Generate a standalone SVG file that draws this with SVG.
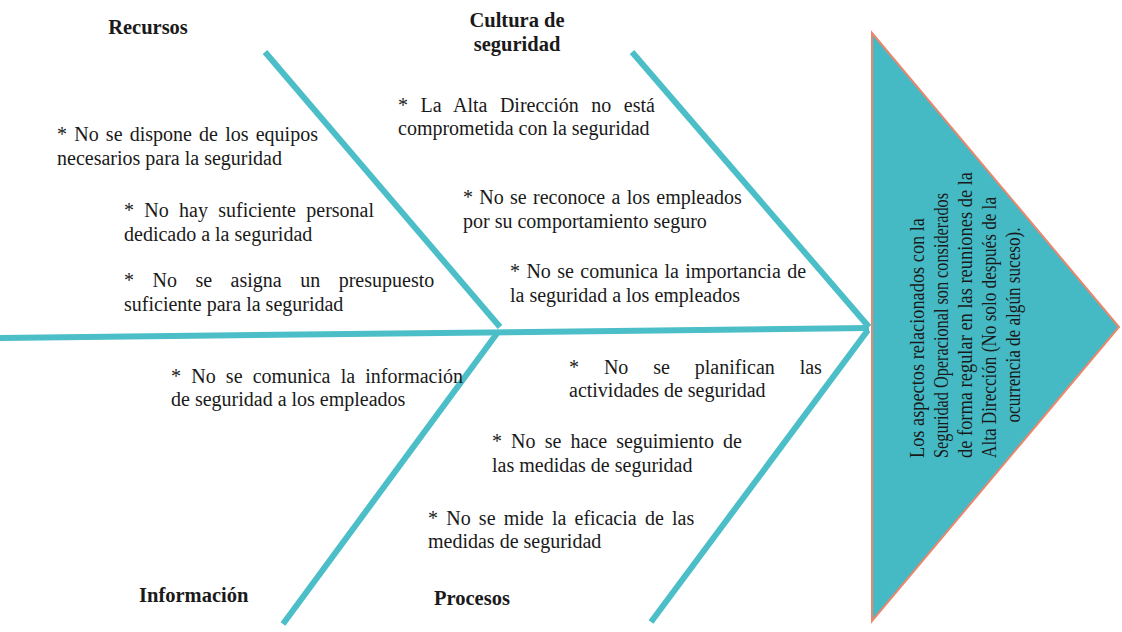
<svg xmlns="http://www.w3.org/2000/svg" width="1122" height="632" viewBox="0 0 1122 632">
<style>
.bone{stroke:#4BBEC7;stroke-width:6;fill:none;stroke-linecap:butt}
.t{font-family:"Liberation Serif","Times New Roman",serif;font-size:20px;fill:#1a1a1a}
.h{font-family:"Liberation Serif","Times New Roman",serif;font-size:20.5px;font-weight:bold;fill:#1a1a1a}
.r{font-family:"Liberation Serif","Times New Roman",serif;font-size:21px;fill:#1a1a1a}
</style>
<rect width="1122" height="632" fill="#ffffff"/>
<g id="connectors">
<line class="bone" x1="0" y1="338" x2="869" y2="328"/>
<line class="bone" x1="265" y1="52" x2="500" y2="327"/>
<line class="bone" x1="632" y1="52" x2="869" y2="327"/>
<line class="bone" x1="498" y1="332" x2="283" y2="624"/>
<line class="bone" x1="868" y1="330" x2="651" y2="622"/>
</g>
<g id="head">
<polygon points="872,33 1119,327 872,621" fill="#45BAC5" stroke="#E9876E" stroke-width="2"/>
<g transform="rotate(-90)">
<text class="r" x="-458" y="924" textLength="240" lengthAdjust="spacingAndGlyphs">Los aspectos relacionados con la</text>
<text class="r" x="-458" y="948" textLength="265" lengthAdjust="spacingAndGlyphs">Seguridad Operacional son considerados</text>
<text class="r" x="-458" y="972" textLength="286" lengthAdjust="spacingAndGlyphs">de forma regular en las reuniones de la</text>
<text class="r" x="-458" y="996" textLength="261" lengthAdjust="spacingAndGlyphs">Alta Dirección (No solo después de la</text>
<text class="r" x="-325" y="1020" text-anchor="middle" textLength="195" lengthAdjust="spacingAndGlyphs">ocurrencia de algún suceso).</text>
</g>
</g>
<g id="recursos">
<text class="h" x="148" y="34" text-anchor="middle">Recursos</text>
<text class="t" x="57" y="141" style="word-spacing:2.2px">* No se dispone de los equipos</text>
<text class="t" x="57" y="165">necesarios para la seguridad</text>
<text class="t" x="124" y="217" style="word-spacing:5.3px">* No hay suficiente personal</text>
<text class="t" x="124" y="241">dedicado a la seguridad</text>
<text class="t" x="124" y="287" style="word-spacing:13.5px">* No se asigna un presupuesto</text>
<text class="t" x="124" y="311">suficiente para la seguridad</text>
</g>
<g id="cultura">
<text class="h" x="517" y="27" text-anchor="middle">Cultura de</text>
<text class="h" x="517" y="51" text-anchor="middle">seguridad</text>
<text class="t" x="398" y="112" style="word-spacing:7.5px">* La Alta Dirección no está</text>
<text class="t" x="398" y="135">comprometida con la seguridad</text>
<text class="t" x="463" y="204" style="word-spacing:1.3px">* No se reconoce a los empleados</text>
<text class="t" x="463" y="228">por su comportamiento seguro</text>
<text class="t" x="510" y="278" style="word-spacing:1.4px">* No se comunica la importancia de</text>
<text class="t" x="510" y="302">la seguridad a los empleados</text>
</g>
<g id="informacion">
<text class="t" x="171" y="383" style="word-spacing:5.2px">* No se comunica la información</text>
<text class="t" x="171" y="406">de seguridad a los empleados</text>
<text class="h" x="139" y="602">Información</text>
</g>
<g id="procesos">
<text class="t" x="569" y="374" style="word-spacing:19.9px">* No se planifican las</text>
<text class="t" x="569" y="397">actividades de seguridad</text>
<text class="t" x="492" y="448" style="word-spacing:4.1px">* No se hace seguimiento de</text>
<text class="t" x="492" y="472">las medidas de seguridad</text>
<text class="t" x="428" y="525" style="word-spacing:3.2px">* No se mide la eficacia de las</text>
<text class="t" x="428" y="548">medidas de seguridad</text>
<text class="h" x="434" y="605">Procesos</text>
</g>
</svg>
